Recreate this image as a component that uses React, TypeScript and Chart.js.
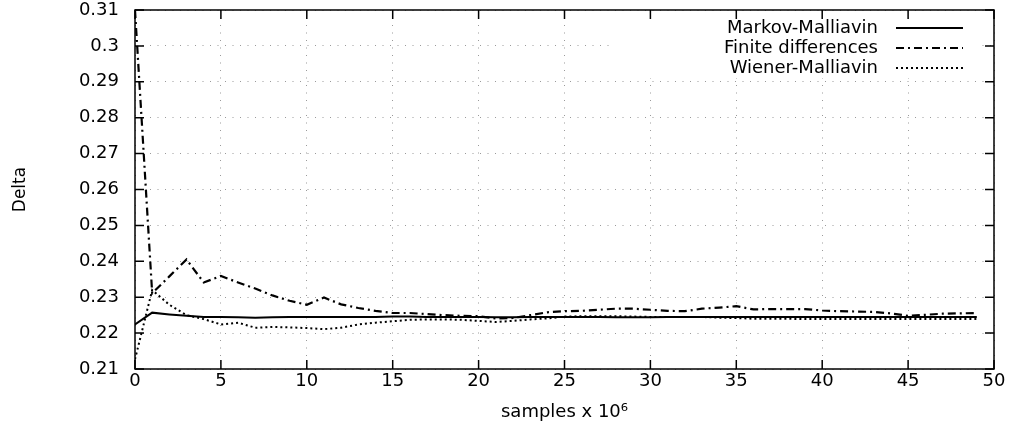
import React, { useEffect, useRef } from "react";
import { Chart, registerables } from "chart.js";

Chart.register(...registerables);

// samples (x 10^6)
const samples = [
  0, 1, 2, 3, 4, 5, 6, 7, 8, 9,
  10, 11, 12, 13, 14, 15, 16, 17, 18, 19,
  20, 21, 22, 23, 24, 25, 26, 27, 28, 29,
  30, 31, 32, 33, 34, 35, 36, 37, 38, 39,
  40, 41, 42, 43, 44, 45, 46, 47, 48, 49,
];

const markovMalliavin = [
  0.2224, 0.2257, 0.2252, 0.2248, 0.2245, 0.2245, 0.2244, 0.2243, 0.2244, 0.2245,
  0.2245, 0.2245, 0.2245, 0.2245, 0.2245, 0.2246, 0.2246, 0.2245, 0.2245, 0.2245,
  0.2245, 0.2244, 0.2244, 0.2245, 0.2245, 0.2245, 0.2245, 0.2245, 0.2244, 0.2244,
  0.2244, 0.2245, 0.2245, 0.2245, 0.2245, 0.2245, 0.2245, 0.2245, 0.2245, 0.2245,
  0.2245, 0.2245, 0.2245, 0.2245, 0.2245, 0.2245, 0.2245, 0.2245, 0.2245, 0.2245,
];

const finiteDifferences = [
  0.31, 0.2311, 0.2358, 0.2405, 0.2341, 0.2359, 0.2341, 0.2324, 0.2305, 0.229,
  0.2279, 0.2299, 0.228, 0.227, 0.2262, 0.2256, 0.2256, 0.2253, 0.225, 0.2248,
  0.2247, 0.2241, 0.2242, 0.225, 0.2258, 0.2261, 0.2262, 0.2265, 0.2268, 0.2268,
  0.2265, 0.2262, 0.2261, 0.2268, 0.2271, 0.2275, 0.2266, 0.2267, 0.2267, 0.2267,
  0.2263, 0.2261, 0.226, 0.2259, 0.2255, 0.2248, 0.2251, 0.2254, 0.2255, 0.2256,
];

const wienerMalliavin = [
  0.2127, 0.232, 0.2279, 0.225, 0.2239, 0.2224, 0.2229, 0.2215, 0.2217, 0.2216,
  0.2214, 0.2211, 0.2215, 0.2224, 0.2229, 0.2233, 0.2237, 0.2238, 0.2238, 0.2237,
  0.2234, 0.2231, 0.2234, 0.2238, 0.2241, 0.2246, 0.2247, 0.2247, 0.2247, 0.2246,
  0.2245, 0.2245, 0.2245, 0.2245, 0.2243, 0.2242, 0.224, 0.224, 0.224, 0.2239,
  0.2239, 0.2239, 0.2239, 0.2239, 0.2239, 0.2239, 0.2239, 0.2239, 0.2239, 0.2239,
];

const seriesLabels = ["Markov-Malliavin", "Finite differences", "Wiener-Malliavin"];
const xAxisTitle = "samples x 10\u2076";
const yAxisTitle = "Delta";

const FONT = "'DejaVu Sans', 'Liberation Sans', sans-serif";

const toPoints = (ys: number[]) => samples.map((x, i) => ({ x, y: ys[i] }));

const framePlugin = {
  id: "gnuplotFrame",
  afterDraw(chart: any) {
    const { ctx, chartArea: a, scales } = chart;
    ctx.save();

    // legend (inside plot, top right)
    ctx.fillStyle = "#ffffff";
    ctx.fillRect(a.right - 382, a.top + 10, 368, 58);
    ctx.font = `18px ${FONT}`;
    ctx.textAlign = "right";
    ctx.textBaseline = "middle";
    chart.data.datasets.forEach((ds: any, i: number) => {
      const y = a.top + 18 + i * 20;
      ctx.fillStyle = "#000";
      ctx.fillText(ds.label, a.right - 116, y);
      ctx.strokeStyle = "#000";
      ctx.lineWidth = ds.borderWidth;
      ctx.setLineDash(ds.borderDash || []);
      ctx.beginPath();
      ctx.moveTo(a.right - 98, y);
      ctx.lineTo(a.right - 31, y);
      ctx.stroke();
    });
    ctx.setLineDash([]);

    // frame
    ctx.strokeStyle = "#000";
    ctx.lineWidth = 1.5;
    ctx.strokeRect(a.left, a.top, a.right - a.left, a.bottom - a.top);

    // inward ticks on all four sides
    const len = 9;
    ctx.lineWidth = 1.5;
    ctx.beginPath();
    scales.x.ticks.forEach((t: any) => {
      const px = scales.x.getPixelForValue(t.value);
      ctx.moveTo(px, a.bottom);
      ctx.lineTo(px, a.bottom - len);
      ctx.moveTo(px, a.top);
      ctx.lineTo(px, a.top + len);
    });
    scales.y.ticks.forEach((t: any) => {
      const py = scales.y.getPixelForValue(t.value);
      ctx.moveTo(a.left, py);
      ctx.lineTo(a.left + len, py);
      ctx.moveTo(a.right, py);
      ctx.lineTo(a.right - len, py);
    });
    ctx.stroke();
    ctx.restore();
  },
};

export default function App() {
  const ref = useRef<HTMLCanvasElement | null>(null);

  useEffect(() => {
    document.body.style.margin = "0";
    document.body.style.background = "#fff";
    const canvas = ref.current;
    if (!canvas) return;

    const gridColor = "#9a9a9a";
    const chart = new Chart(canvas, {
      type: "line",
      data: {
        datasets: [
          {
            label: seriesLabels[0],
            data: toPoints(markovMalliavin),
            borderColor: "#000",
            borderWidth: 2,
            borderDash: [],
            pointRadius: 0,
            tension: 0,
            fill: false,
          },
          {
            label: seriesLabels[1],
            data: toPoints(finiteDifferences),
            borderColor: "#000",
            borderWidth: 2.2,
            borderDash: [8, 4, 2, 4],
            pointRadius: 0,
            tension: 0,
            fill: false,
          },
          {
            label: seriesLabels[2],
            data: toPoints(wienerMalliavin),
            borderColor: "#000",
            borderWidth: 2,
            borderDash: [2, 3],
            pointRadius: 0,
            tension: 0,
            fill: false,
          },
        ],
      },
      options: {
        responsive: false,
        animation: false,
        events: [],
        layout: { padding: { top: 10, right: 21, left: 0, bottom: 0 } },
        plugins: {
          legend: { display: false },
          tooltip: { enabled: false },
        },
        scales: {
          x: {
            type: "linear",
            min: 0,
            max: 50,
            ticks: {
              stepSize: 5,
              padding: 2,
              color: "#000",
              font: { family: FONT, size: 18 },
              maxRotation: 0,
            },
            grid: { color: gridColor, lineWidth: 1, drawTicks: false },
            border: { display: false, dash: [1, 6.5] },
            title: {
              display: true,
              text: xAxisTitle,
              color: "#000",
              font: { family: FONT, size: 18 },
              padding: { top: 0, bottom: 10 },
            },
            afterFit: (scale: any) => {
              scale.height = 64;
            },
          },
          y: {
            type: "linear",
            min: 0.21,
            max: 0.31,
            ticks: {
              stepSize: 0.01,
              padding: 16,
              color: "#000",
              font: { family: FONT, size: 18 },
              callback: (v: any) => String(+Number(v).toFixed(2)),
            },
            grid: { color: gridColor, lineWidth: 1, drawTicks: false },
            border: { display: false, dash: [1, 6.5] },
            title: {
              display: true,
              text: yAxisTitle,
              color: "#000",
              font: { family: FONT, size: 17 },
              padding: { top: 10, bottom: 0 },
            },
            afterFit: (scale: any) => {
              scale.width = 135;
              scale.paddingTop = 0;
              scale.paddingBottom = 0;
            },
          },
        },
      },
      plugins: [framePlugin],
    } as any);

    return () => chart.destroy();
  }, []);

  return <canvas ref={ref} width={1015} height={433} style={{ display: "block" }} />;
}
